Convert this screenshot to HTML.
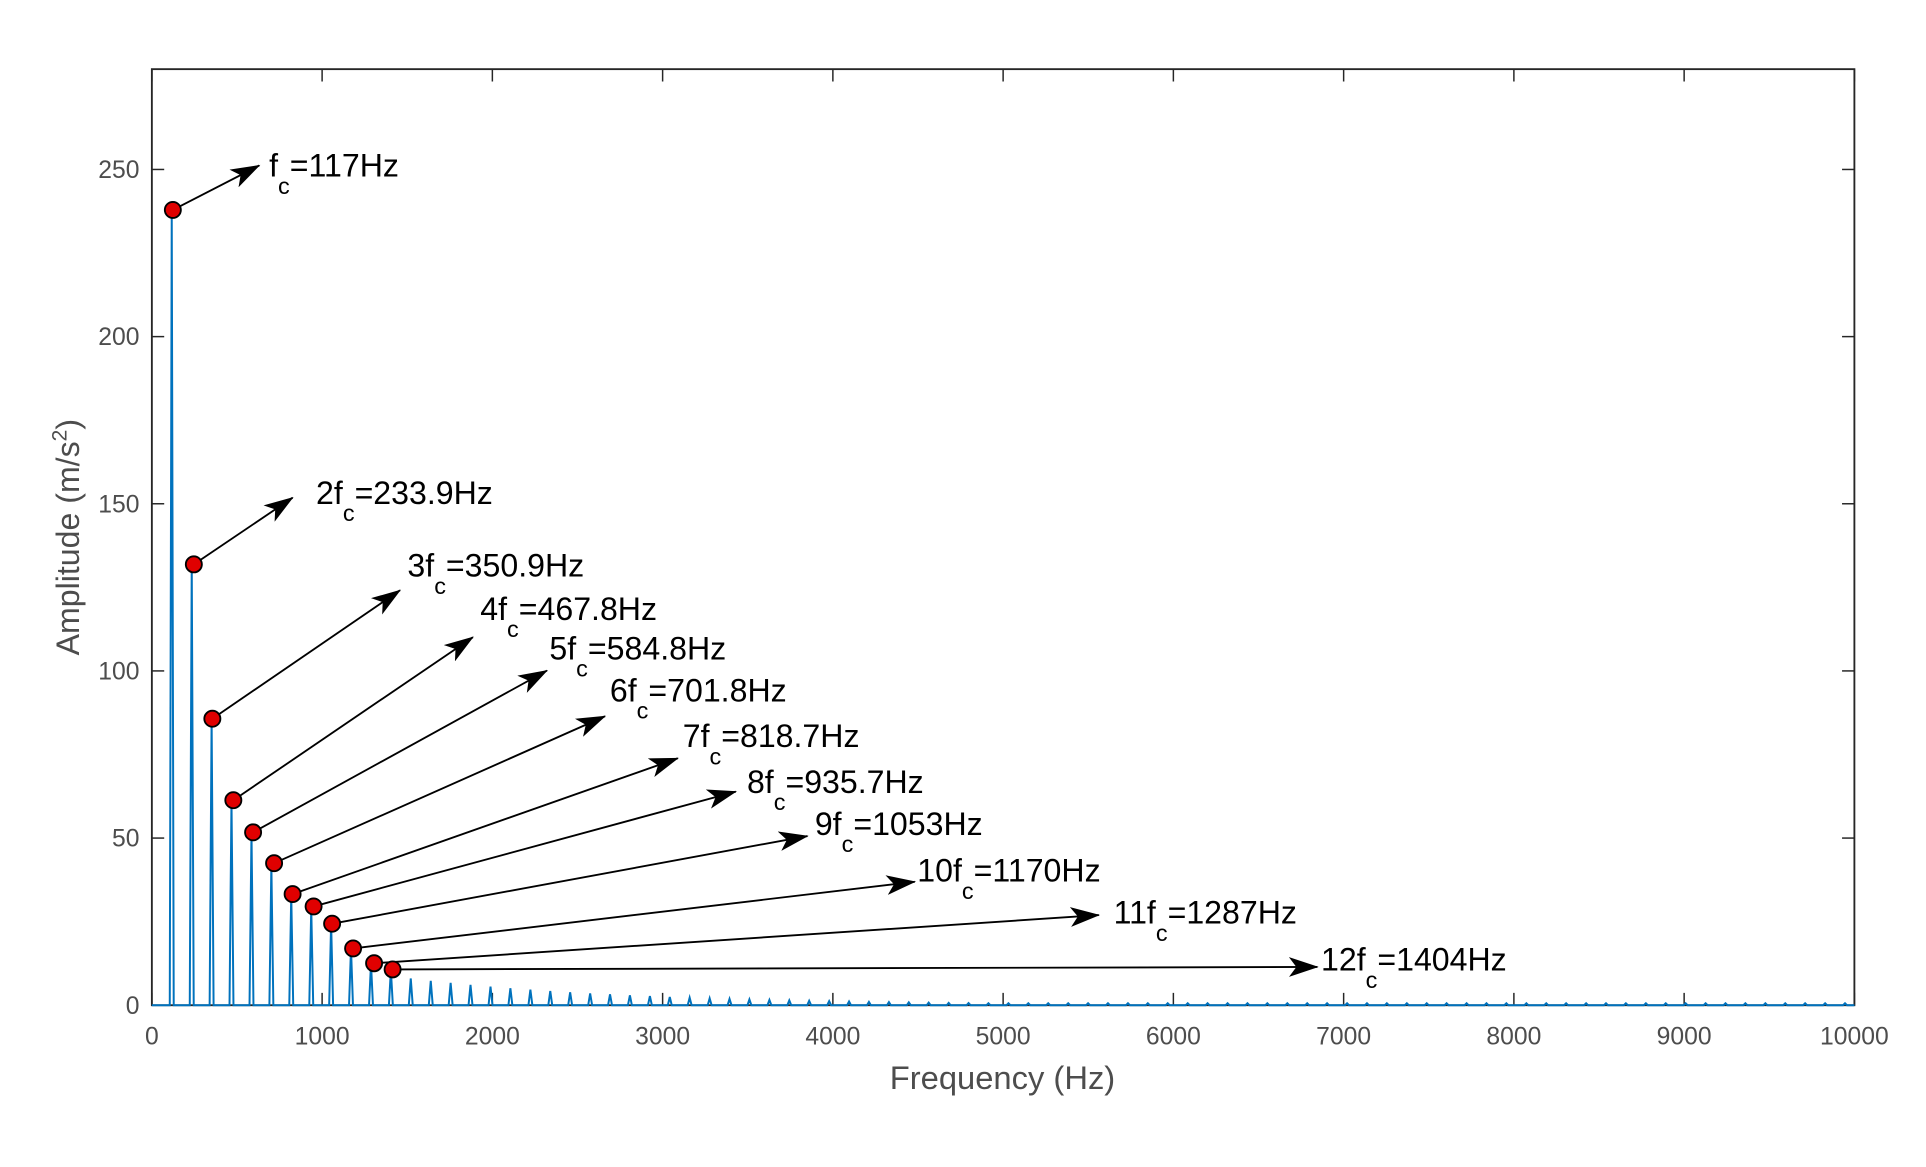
<!DOCTYPE html>
<html><head><style>html,body{margin:0;padding:0;background:#fff}svg{display:block}text{font-family:"Liberation Sans",Arial,sans-serif}</style></head>
<body>
<svg id="s" width="1926" height="1167" viewBox="0 0 1560 945" preserveAspectRatio="none" xmlns="http://www.w3.org/2000/svg">
<defs>
<marker id="a" viewBox="0 0 24 16" refX="23" refY="8" markerWidth="24" markerHeight="16" orient="auto" markerUnits="userSpaceOnUse"><path d="M0,0 L24,8 L0,16 L6,8 Z" fill="#000"/></marker></defs>
<rect x="123" y="56" width="1379" height="758" fill="#fff" stroke="#262626" stroke-width="1.5"/>
<g id="ticks" stroke="#262626" stroke-width="1.2"></g>
<g id="lab" fill="#4d4d4d" font-size="20"></g>
<g id="spk" stroke="#0072BD" stroke-width="1.6" fill="none"></g>
<g id="arr" stroke="#000" stroke-width="1.5"></g>
<g id="mk" fill="#e00000" stroke="#000" stroke-width="1.5"></g>
<g id="ann" font-size="26" fill="#000"></g>
<text x="812" y="882" font-size="26.5" fill="#4d4d4d" text-anchor="middle">Frequency (Hz)</text>
<text transform="translate(64,435) rotate(-90)" font-size="26" fill="#4d4d4d" text-anchor="middle">Amplitude (m/s<tspan dy="-10" font-size="17">2</tspan><tspan dy="10">)</tspan></text>
</svg>
<script>
const NS="http://www.w3.org/2000/svg";
function el(p,t,a,txt){const e=document.createElementNS(NS,t);for(const k in a)e.setAttribute(k,a[k]);if(txt!=null)e.textContent=txt;document.getElementById(p).appendChild(e);return e;}
const X=f=>123+f*0.1379, Y=v=>814-v*2.7071;
for(let i=0;i<=10;i++){const x=X(i*1000);el('ticks','line',{x1:x,y1:814,x2:x,y2:804});el('ticks','line',{x1:x,y1:56,x2:x,y2:66});el('lab','text',{x:x,y:846,'text-anchor':'middle'},String(i*1000));}
for(let i=0;i<=5;i++){const y=Y(i*50);el('ticks','line',{x1:123,y1:y,x2:133,y2:y});el('ticks','line',{x1:1502,y1:y,x2:1492,y2:y});el('lab','text',{x:113,y:y+7,'text-anchor':'end'},String(i*50));}
const amps=[237,132,85.5,61,51.5,42,33,29,24.5,17,12.5,10.5];
let d='M123,814';
for(let n=1;n<=85;n++){const f=n*117.0;let a=n<=12?amps[n-1]:Math.max(0.6,8*Math.exp(-(n-13)*0.09));const x=X(f);d+=` L${(x-1.6).toFixed(1)},814 L${x.toFixed(1)},${Y(a).toFixed(1)} L${(x+1.6).toFixed(1)},814`;}
d+=' L1502,814';el('spk','path',{d});
const mks=[[140,170],[157,457],[172,582],[189,648],[205,674],[222,699],[237,724],[254,734],[269,748],[286,768],[303,780],[318,785]];
const tips=[[210,134],[237,403],[324,478],[383,516],[443,543],[490,580],[549,614],[596,641],[654,677],[741,714],[890,741],[1067,783]];
const txt=[[218,143,'','117'],[256,408,'2','233.9'],[330,467,'3','350.9'],[389,502,'4','467.8'],[445,534,'5','584.8'],[494,568,'6','701.8'],[553,605,'7','818.7'],[605,642,'8','935.7'],[660,676,'9','1053'],[743,714,'10','1170'],[902,748,'11','1287'],[1070,786,'12','1404']];
for(let i=0;i<12;i++){el('arr','line',{x1:mks[i][0],y1:mks[i][1],x2:tips[i][0],y2:tips[i][1],'marker-end':'url(#a)'});
el('mk','circle',{cx:mks[i][0],cy:mks[i][1],r:6.5});
const t=el('ann','text',{x:txt[i][0],y:txt[i][1]});t.innerHTML=`${txt[i][2]}f<tspan dy="14" font-size="19">c</tspan><tspan dy="-14">=${txt[i][3]}Hz</tspan>`;}
</script>
</body></html>
